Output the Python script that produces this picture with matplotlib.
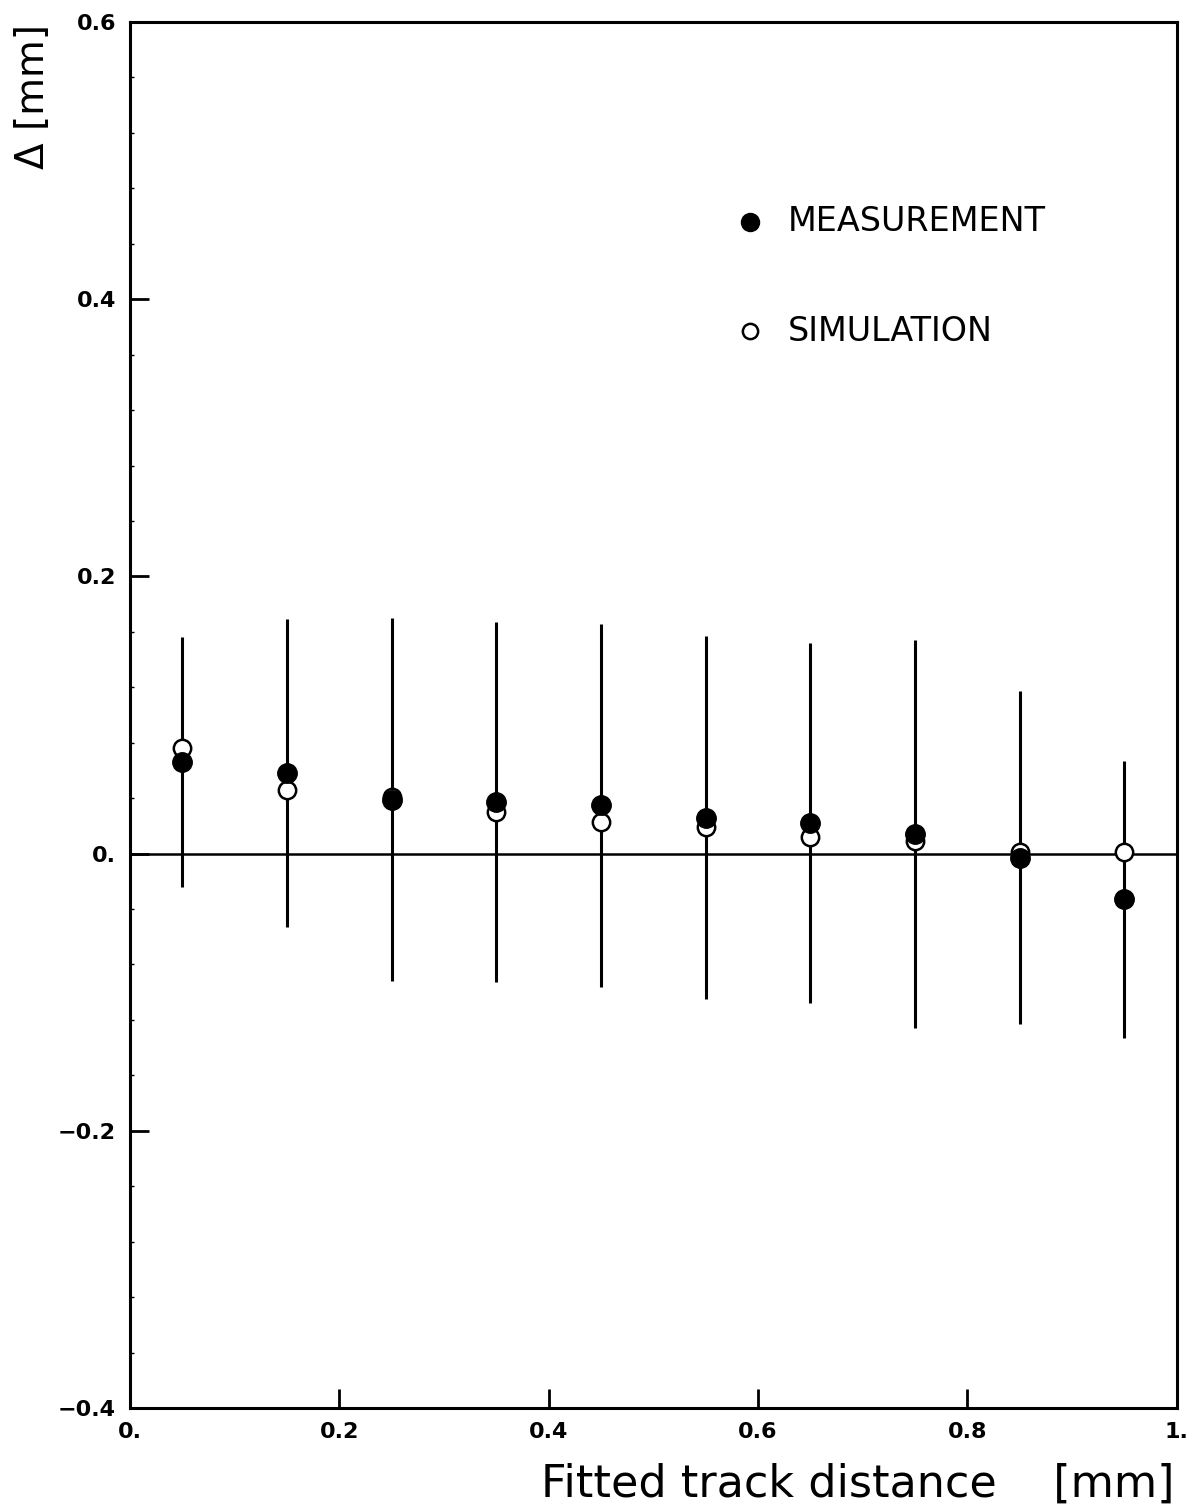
import matplotlib
matplotlib.use("Agg")
import matplotlib.pyplot as plt
import numpy as np

# Residual Delta vs fitted track distance, 10 bins
distance = [0.05, 0.15, 0.25, 0.35, 0.45, 0.55, 0.65, 0.75, 0.85, 0.95]
delta_meas = [0.066, 0.058, 0.039, 0.037, 0.035, 0.026, 0.022, 0.014, -0.003, -0.033]
delta_sim = [0.076, 0.046, 0.041, 0.030, 0.023, 0.019, 0.012, 0.009, 0.001, 0.001]
meas_err = [0.090, 0.111, 0.131, 0.130, 0.131, 0.131, 0.130, 0.140, 0.120, 0.100]

xticks = [0.0, 0.2, 0.4, 0.6, 0.8, 1.0]
xticklabels = ['0.', '0.2', '0.4', '0.6', '0.8', '1.']
yticks = [-0.4, -0.2, 0.0, 0.2, 0.4, 0.6]
yticklabels = ['\u22120.4', '\u22120.2', '0.', '0.2', '0.4', '0.6']

fig = plt.figure(figsize=(11.91, 15.07), dpi=100)
ax = fig.add_axes([0.109, 0.0657, 0.879, 0.9197])

# error bars on the measurement
ax.errorbar(distance, delta_meas, yerr=meas_err, fmt='none', ecolor='black',
            elinewidth=2.2, capsize=0, zorder=2)
ax.axhline(0.0, color='black', linewidth=1.8, zorder=1)

ax.plot(distance, delta_sim, 'o', markersize=12.5, markerfacecolor='white',
        markeredgecolor='black', markeredgewidth=1.8, linestyle='none', zorder=3)
ax.plot(distance, delta_meas, 'o', markersize=14, markerfacecolor='black',
        markeredgecolor='black', linestyle='none', zorder=4)

# legend drawn by hand
ax.plot([0.592], [0.456], 'o', markersize=13, color='black')
ax.text(0.628, 0.456, 'MEASUREMENT', fontsize=24, va='center', ha='left')
ax.plot([0.592], [0.377], 'o', markersize=11, markerfacecolor='white',
        markeredgecolor='black', markeredgewidth=1.8)
ax.text(0.628, 0.377, 'SIMULATION', fontsize=24, va='center', ha='left')

ax.set_xlim(0, 1)
ax.set_ylim(-0.4, 0.6)
ax.set_xticks(xticks)
ax.set_xticklabels(xticklabels, fontsize=16, fontweight='bold')
ax.set_yticks(yticks)
ax.set_yticklabels(yticklabels, fontsize=16, fontweight='bold')
ax.set_yticks(np.arange(-0.4, 0.6001, 0.04), minor=True)
ax.tick_params(axis='both', which='major', direction='in', length=14, width=2, pad=10)
ax.tick_params(axis='x', which='major', labelbottom=True, top=False)
ax.tick_params(axis='y', which='minor', direction='in', length=3, width=1)
ax.tick_params(axis='x', which='minor', bottom=False)
for sp in ax.spines.values():
    sp.set_linewidth(2.2)

fig.text(0.986, 0.0066, 'Fitted track distance    [mm]', fontsize=32,
         ha='right', va='baseline')
fig.text(0.028, 0.984, '\u0394 [mm]', fontsize=28, rotation=90,
         ha='center', va='top')

plt.savefig('out.png', dpi=100)
